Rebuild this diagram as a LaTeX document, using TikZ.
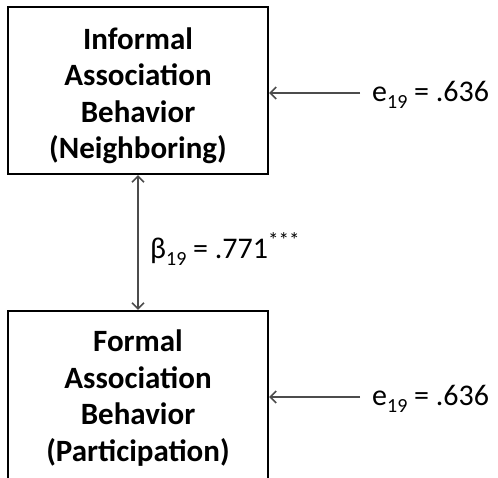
\documentclass[tikz,border=0pt]{standalone}
\usepackage{fontspec}
\setmainfont{Carlito}
\usetikzlibrary{arrows.meta}
% lowered subscript and raised superscript for the estimates
\newcommand\lowsub[1]{\raisebox{-7pt}{\fontsize{20}{20}\selectfont #1}}
\newcommand\highsup[1]{\raisebox{11pt}{\fontsize{21}{21}\selectfont #1}}
\begin{document}
\begin{tikzpicture}[x=1pt,y=1pt,
  varbox/.style={draw=black, line width=2.2pt, minimum width=260pt, minimum height=167pt, inner sep=0pt},
  boxtext/.style={align=center, font=\fontsize{31}{36.5}\selectfont\bfseries, inner sep=0pt},
  tip/.tip={Straight Barb[length=6pt,width=12pt,line width=1.6pt]},
  path/.style={draw=black!70, line width=1.3pt, tip-tip},
  errarrow/.style={draw=black!70, line width=1.3pt, -tip},
  est/.style={anchor=west, font=\fontsize{30}{32}\selectfont, inner sep=0pt}]
  \useasboundingbox (0,0) rectangle (498,-478);
  \clip (0,0) rectangle (498,-478);

  % latent behaviour boxes
  \node[varbox] (inf) at (138,-90.5) {};
  \node[varbox, minimum height=180pt] (form) at (138,-401) {};
  \node[boxtext] (inftxt) at (138,-96) {Informal\\Association\\Behavior\\(Neighboring)};
  \node[boxtext] (formtxt) at (138,-398) {Formal\\Association\\Behavior\\(Participation)};

  % correlation between the two
  \draw[path] (inf.south) -- (form.north);
  \node[est] (beta) at (150,-249) {β\lowsub{19} = .771\highsup{***}};

  % error terms
  \coordinate (e1) at (360,-93);
  \coordinate (e2) at (360,-397);
  \draw[errarrow] (e1) -- (inf.east |- e1);
  \draw[errarrow] (e2) -- (form.east |- e2);
  \node[est] (e1lab) at (372,-95) {e\lowsub{19} = .636};
  \node[est] (e2lab) at (372,-399) {e\lowsub{19} = .636};
\end{tikzpicture}
\end{document}
